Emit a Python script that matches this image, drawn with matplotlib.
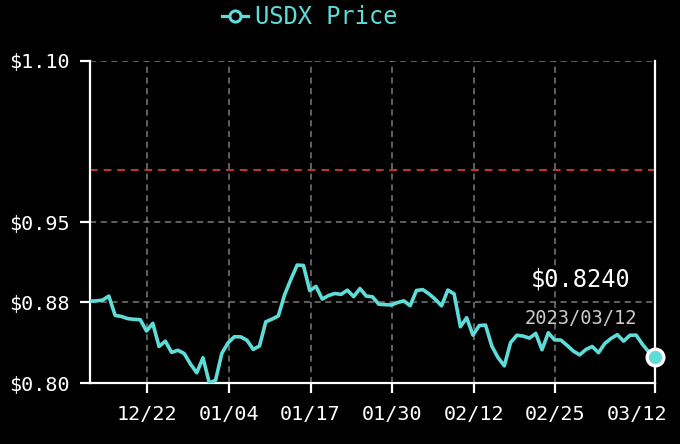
import matplotlib
matplotlib.use("Agg")
import matplotlib.pyplot as plt
import matplotlib.transforms as mtransforms
from matplotlib.lines import Line2D
import pandas as pd

# ---- data ----
start_time = "2022-12-12 21:00"
prices = [
    0.8763, 0.8765, 0.8772, 0.8810, 0.8630, 0.8620, 0.8600, 0.8593, 0.8590, 0.8484,
    0.8556, 0.8340, 0.8390, 0.8285, 0.8305, 0.8275, 0.8177, 0.8095, 0.8235, 0.8002,
    0.8025, 0.8276, 0.8375, 0.8431, 0.8430, 0.8398, 0.8313, 0.8345, 0.8570, 0.8595,
    0.8625, 0.8822, 0.8966, 0.9099, 0.9095, 0.8861, 0.8900, 0.8782, 0.8815, 0.8834,
    0.8826, 0.8865, 0.8805, 0.8880, 0.8810, 0.8803, 0.8734, 0.8730, 0.8727, 0.8750,
    0.8765, 0.8720, 0.8862, 0.8870, 0.8830, 0.8780, 0.8719, 0.8866, 0.8830, 0.8524,
    0.8608, 0.8446, 0.8535, 0.8540, 0.8345, 0.8236, 0.8160, 0.8377, 0.8445, 0.8437,
    0.8418, 0.8462, 0.8310, 0.8468, 0.8402, 0.8400, 0.8350, 0.8297, 0.8262, 0.8312,
    0.8340, 0.8282, 0.8368, 0.8415, 0.8450, 0.8390, 0.8445, 0.8446, 0.8360, 0.8290,
    0.8240,
]
x_tick_dates = ["2022-12-22", "2023-01-04", "2023-01-17", "2023-01-30", "2023-02-12", "2023-02-25"]
x_tick_labels = ["12/22", "01/04", "01/17", "01/30", "02/12", "02/25", "03/12"]
y_ticks = [0.80, 0.875, 0.95, 1.10]
y_tick_labels = ["$0.80", "$0.88", "$0.95", "$1.10"]
peg_value = 0.998
last_price_label = "$0.8240"
last_date_label = "2023/03/12"
series_name = "USDX Price"

# ---- style ----
CYAN = "#5ddcd8"
FONT = "DejaVu Sans Mono"
plt.rcParams["font.family"] = FONT

dates = pd.date_range(start_time, periods=len(prices), freq="D")

fig = plt.figure(figsize=(6.8, 4.44), dpi=100, facecolor="black")
ax = fig.add_axes([90 / 680, 1 - 383 / 444, 565 / 680, 322 / 444])
ax.set_facecolor("black")

ax.plot(dates, prices, color=CYAN, lw=2.6, solid_joinstyle="round",
        solid_capstyle="round", zorder=3)
ax.plot(dates[-1:], prices[-1:], "o", ms=12, mfc=CYAN, mec="white", mew=2.4,
        zorder=5, clip_on=False)

ax.axhline(peg_value, color="#c8323a", lw=1.4, ls=(0, (4, 3)), zorder=2)

ax.set_xlim(dates[0], dates[-1])
ax.set_ylim(0.80, 1.10)

xt = [pd.Timestamp(d) for d in x_tick_dates] + [dates[-1]]
ax.set_xticks(xt)
ax.set_xticklabels(x_tick_labels)
ax.set_yticks(y_ticks)
ax.set_yticklabels(y_tick_labels)

ax.grid(True, color="#7a7a7a", lw=1.1, ls=(0, (4, 3)), zorder=1)

for side in ["left", "bottom", "right"]:
    ax.spines[side].set_color("white")
    ax.spines[side].set_linewidth(1.6)
ax.spines["top"].set_visible(False)

ax.tick_params(axis="both", colors="white", length=7.5, width=1.6,
               labelsize=14.5, labelcolor="white")
ax.tick_params(axis="y", pad=7)
ax.tick_params(axis="x", pad=8)

# shift last x label left so it stays inside the figure
last_lbl = ax.get_xticklabels()[-1]
last_lbl.set_transform(last_lbl.get_transform() +
                       mtransforms.ScaledTranslation(-18 / 100, 0, fig.dpi_scale_trans))

ax.text(0.956, 0.32, last_price_label, transform=ax.transAxes, ha="right",
        va="center", color="white", fontsize=17)
ax.text(0.968, 0.199, last_date_label, transform=ax.transAxes, ha="right",
        va="center", color="#cccccc", fontsize=13.5)

handle = Line2D([0], [0], color=CYAN, lw=2.3, marker="o", ms=8,
                mfc="black", mec=CYAN, mew=2.2)
fig.legend([handle], [series_name], loc="center",
           bbox_to_anchor=(0.455, 0.962), frameon=False, fontsize=17,
           labelcolor=CYAN, handlelength=1.1, handletextpad=0.3)

fig.savefig("out.png", dpi=100, facecolor="black")
